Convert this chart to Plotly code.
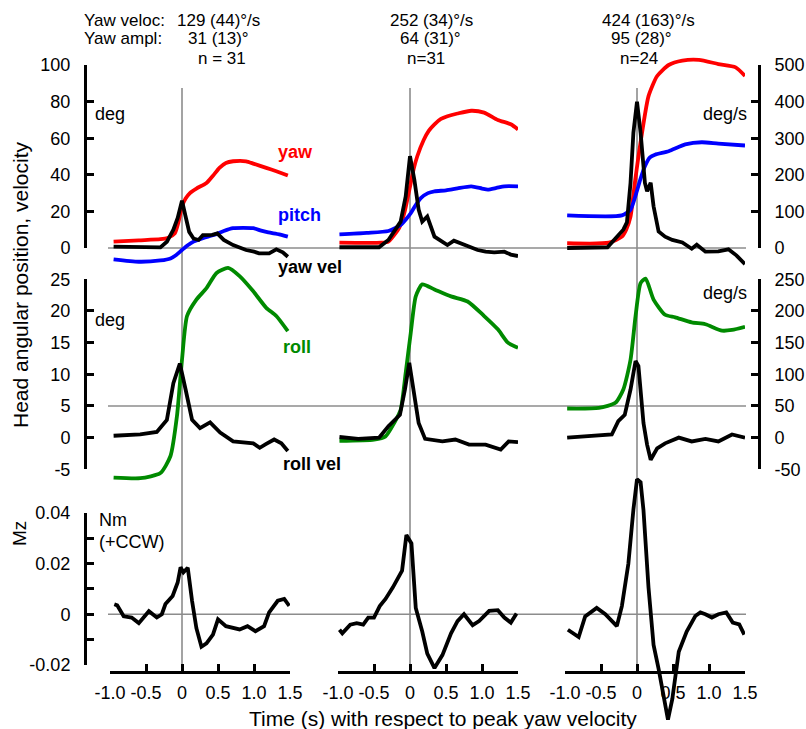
import plotly.graph_objects as go

W, H = 806, 729

# ---------------- data (time in s relative to peak yaw velocity) ----------------
# Column 1 (slow turns)
c1_yaw_t = [-0.95, -0.6, -0.3, -0.2, -0.1, -0.05, 0, 0.05, 0.11, 0.2, 0.34, 0.43, 0.52, 0.61, 0.71, 0.89, 1.0, 1.17, 1.31, 1.47]
c1_yaw = [3.5, 4.2, 4.8, 5.5, 8, 14, 22.7, 27, 30, 32.5, 35.5, 39.5, 43.8, 46.5, 47.4, 47.4, 46, 43.8, 41.9, 39.6]
c1_pitch_t = [-0.95, -0.6, -0.3, -0.16, -0.08, 0, 0.08, 0.16, 0.3, 0.44, 0.58, 0.71, 0.85, 0.99, 1.1, 1.2, 1.35, 1.47]
c1_pitch = [-6.2, -7.5, -6.8, -5.7, -3.8, -1.1, 1.5, 3.5, 5.5, 7.1, 9.3, 10.8, 11, 10.8, 9.5, 8.5, 7.5, 6.2]
c1_yawvel_t = [-0.95, -0.7, -0.4, -0.3, -0.21, -0.12, -0.06, -0.02, 0, 0.05, 0.1, 0.16, 0.23, 0.29, 0.34, 0.42, 0.49, 0.58, 0.71, 0.8, 0.89, 1.0, 1.07, 1.21, 1.31, 1.4, 1.47]
c1_yawvel = [3.6, 2, 1.5, 1.5, 17, 50, 82, 118, 129, 86, 44, 26, 22, 35, 35, 36, 40, 22, 8, 0, -5.5, -10, -14.5, -14.5, -3.5, -12, -24]
c1_roll_t = [-0.95, -0.58, -0.3, -0.16, -0.07, 0, 0.07, 0.2, 0.34, 0.48, 0.64, 0.8, 0.99, 1.17, 1.31, 1.47]
c1_roll = [-6.3, -6.4, -5.6, -2.9, 3.4, 12.3, 19.2, 21.8, 23.6, 26, 26.8, 25.5, 23.1, 20.5, 19.2, 16.8]
c1_rollvel_t = [-0.95, -0.58, -0.35, -0.21, -0.12, -0.03, 0.05, 0.14, 0.25, 0.39, 0.53, 0.71, 0.99, 1.08, 1.17, 1.28, 1.38, 1.47]
c1_rollvel = [3, 5, 9, 28, 86, 117, 76, 28, 15, 24, 8, -6, -9, -16, -10, -3, -9, -21]
c1_mz_t = [-0.94, -0.9, -0.81, -0.7, -0.6, -0.46, -0.35, -0.28, -0.23, -0.13, -0.06, -0.02, 0.02, 0.08, 0.14, 0.2, 0.27, 0.34, 0.43, 0.5, 0.61, 0.8, 0.91, 1.02, 1.14, 1.21, 1.33, 1.42, 1.49]
c1_mz = [0.0039, 0.0035, -0.0008, -0.0013, -0.0035, 0.0012, -0.0013, 0.0, 0.004, 0.0072, 0.0125, 0.0185, 0.0165, 0.0183, 0.0052, -0.0055, -0.0128, -0.0115, -0.008, -0.002, -0.0047, -0.006, -0.0047, -0.0067, -0.0047, 0.0007, 0.0053, 0.006, 0.0033]

# Column 2 (medium turns)
c2_yaw_t = [-0.98, -0.4, -0.3, -0.22, -0.15, -0.08, 0.01, 0.05, 0.1, 0.19, 0.26, 0.34, 0.43, 0.52, 0.66, 0.85, 1.03, 1.22, 1.4, 1.5]
c2_yaw = [2.9, 2.9, 3.5, 7.1, 11, 19, 35.5, 43, 50, 59, 64, 67.6, 70.5, 72, 73.5, 75, 74, 70, 67.6, 64.8]
c2_pitch_t = [-0.98, -0.6, -0.3, -0.13, -0.05, 0.01, 0.08, 0.15, 0.25, 0.34, 0.5, 0.66, 0.85, 1.0, 1.08, 1.2, 1.31, 1.5]
c2_pitch = [7.5, 8.3, 9.3, 12.6, 16, 19, 23.5, 27.3, 30, 31, 31.5, 32.6, 33.7, 32.5, 31.9, 32.8, 33.7, 33.7]
c2_yawvel_t = [-0.98, -0.6, -0.43, -0.3, -0.2, -0.13, -0.06, 0, 0.06, 0.12, 0.17, 0.24, 0.34, 0.43, 0.52, 0.61, 0.75, 0.94, 1.05, 1.17, 1.31, 1.4, 1.5]
c2_yawvel = [2, 2, 2, 22, 50, 72, 141, 251, 187, 105, 72, 86, 31, 20, 8, 20, 8, -5.5, -10, -12, -10, -18, -22]
c2_roll_t = [-0.98, -0.5, -0.34, -0.22, -0.13, -0.06, 0.01, 0.08, 0.17, 0.34, 0.57, 0.8, 1.03, 1.22, 1.36, 1.5]
c2_roll = [-0.5, -0.3, 0.2, 2.3, 4.4, 10.2, 16.5, 22.3, 24.2, 23.4, 22.3, 21.5, 19.2, 17.1, 15, 14.2]
c2_rollvel_t = [-0.98, -0.72, -0.43, -0.3, -0.14, -0.07, -0.01, 0.05, 0.12, 0.21, 0.45, 0.63, 0.82, 1.05, 1.26, 1.37, 1.5]
c2_rollvel = [1, -2, 0, 18, 36, 76, 118, 76, 23, -2, -6, -3, -11, -11, -19, -6, -7]
c2_mz_t = [-0.98, -0.94, -0.83, -0.74, -0.65, -0.58, -0.5, -0.42, -0.34, -0.24, -0.11, -0.05, 0.02, 0.08, 0.17, 0.24, 0.34, 0.45, 0.57, 0.66, 0.75, 0.87, 0.96, 1.1, 1.22, 1.31, 1.4, 1.48]
c2_mz = [-0.0061, -0.0075, -0.0041, -0.0035, -0.0041, -0.0013, -0.0013, 0.0032, 0.006, 0.0105, 0.0172, 0.0312, 0.0279, 0.0025, -0.0068, -0.0155, -0.0212, -0.0161, -0.0075, -0.0027, 0.0, -0.0043, -0.0027, 0.0013, 0.0016, -0.0013, -0.0033, 0.0003]

# Column 3 (fast turns)
c3_yaw_t = [-0.97, -0.39, -0.21, -0.15, -0.09, -0.03, 0.02, 0.07, 0.16, 0.28, 0.44, 0.63, 0.86, 1.13, 1.37, 1.5]
c3_yaw = [2.6, 2.9, 6.2, 10, 17.2, 35.5, 50, 63, 83, 94, 100, 102.4, 102.8, 100.5, 98.7, 94]
c3_pitch_t = [-0.97, -0.21, -0.09, -0.01, 0.05, 0.11, 0.18, 0.25, 0.44, 0.67, 0.9, 1.13, 1.5]
c3_pitch = [17.8, 17.8, 20.9, 30, 38, 44.7, 49.5, 51, 52.9, 56.6, 57.8, 57, 56]
c3_yawvel_t = [-0.97, -0.41, -0.3, -0.19, -0.14, -0.09, -0.05, 0, 0.05, 0.11, 0.14, 0.19, 0.23, 0.3, 0.39, 0.49, 0.63, 0.76, 0.83, 0.95, 1.13, 1.27, 1.38, 1.5]
c3_yawvel = [0, 2, 26, 50, 70, 178, 315, 400, 315, 178, 155, 178, 114, 45, 31, 22, 15, -2, 9, -10, -9, -3.5, -20, -44]
c3_roll_t = [-0.97, -0.53, -0.3, -0.19, -0.09, -0.02, 0.05, 0.12, 0.23, 0.39, 0.53, 0.76, 0.95, 1.18, 1.32, 1.5]
c3_roll = [4.6, 4.7, 5.5, 7.6, 12.3, 19.2, 24.4, 25.1, 21.8, 19.4, 19, 18.2, 17.9, 16.9, 17, 17.5]
c3_rollvel_t = [-0.97, -0.35, -0.26, -0.17, -0.09, -0.02, 0.02, 0.09, 0.14, 0.19, 0.28, 0.39, 0.58, 0.76, 0.95, 1.13, 1.32, 1.5]
c3_rollvel = [0, 5, 26, 36, 76, 121, 113, 23, -11, -35, -17, -9, 0, -6, -2, -6, 5, 0]
c3_mz_t = [-0.96, -0.81, -0.72, -0.56, -0.44, -0.28, -0.21, -0.12, -0.05, 0, 0.05, 0.09, 0.16, 0.23, 0.3, 0.37, 0.43, 0.49, 0.58, 0.69, 0.81, 0.88, 0.95, 1.04, 1.13, 1.24, 1.33, 1.42, 1.49]
c3_mz = [-0.0061, -0.009, -0.0009, 0.0025, 0.0, -0.0047, 0.0032, 0.0199, 0.0412, 0.0532, 0.052, 0.041, 0.0105, -0.0121, -0.0215, -0.0335, -0.0415, -0.0335, -0.0148, -0.0068, -0.0007, 0.0007, 0.0, -0.0013, 0.0, 0.0007, -0.0033, -0.004, -0.008]

# header texts
veloc_text = ["129 (44)°/s", "252 (34)°/s", "424 (163)°/s"]
ampl_text = ["31 (13)°", "64 (31)°", "95 (28)°"]
n_text = ["n = 31", "n=31", "n=24"]

x_ticks = [-1.0, -0.5, 0, 0.5, 1.0, 1.5]
x_ticktext = ["-1.0", "-0.5", "0", "0.5", "1.0", "1.5"]

# ---------------- layout helpers ----------------
def px(x):
    return x / W

def py(y):
    return 1 - y / H

def full_range(v_a, y_a, v_b, y_b):
    s = (y_b - y_a) / (v_b - v_a)
    return [v_a + (H - y_a) / s, v_a + (0 - y_a) / s]

FONT = "Liberation Sans, Arial, sans-serif"
RED, BLUE, GREEN, BLACK = "#ff0000", "#0000ff", "#008a00", "#000000"
LW = 3.8

fig = go.Figure()

cols = [
    ("x", c1_yaw_t, c1_yaw, c1_pitch_t, c1_pitch, c1_yawvel_t, c1_yawvel, c1_roll_t, c1_roll, c1_rollvel_t, c1_rollvel, c1_mz_t, c1_mz),
    ("x2", c2_yaw_t, c2_yaw, c2_pitch_t, c2_pitch, c2_yawvel_t, c2_yawvel, c2_roll_t, c2_roll, c2_rollvel_t, c2_rollvel, c2_mz_t, c2_mz),
    ("x3", c3_yaw_t, c3_yaw, c3_pitch_t, c3_pitch, c3_yawvel_t, c3_yawvel, c3_roll_t, c3_roll, c3_rollvel_t, c3_rollvel, c3_mz_t, c3_mz),
]

def line(x, y, xa, ya, color, spline=False):
    return go.Scatter(x=x, y=y, xaxis=xa, yaxis=ya, mode="lines",
                      line=dict(color=color, width=LW, shape="spline" if spline else "linear", smoothing=0.6),
                      showlegend=False, hoverinfo="skip")

for (xa, yt, yv, pt, pv, yvt, yvv, rt, rv, rvt, rvv, mt, mv) in cols:
    fig.add_trace(line(yt, yv, xa, "y", RED, True))
    fig.add_trace(line(pt, pv, xa, "y", BLUE, True))
    fig.add_trace(line(yvt, yvv, xa, "y2", BLACK))
    fig.add_trace(line(rt, rv, xa, "y3", GREEN, True))
    fig.add_trace(line(rvt, rvv, xa, "y4", BLACK))
    fig.add_trace(line(mt, mv, xa, "y5", BLACK))

# dummy traces so display axes get drawn
for xa, ya in [("x", "y6"), ("x3", "y7"), ("x", "y8"), ("x3", "y9"), ("x", "y10")]:
    fig.add_trace(go.Scatter(x=[0], y=[0], xaxis=xa, yaxis=ya, mode="markers",
                             marker=dict(opacity=0), showlegend=False, hoverinfo="skip"))

tickfont = dict(family=FONT, size=18, color="black")

def xaxis(x0, x1):
    return dict(domain=[px(x0), px(x1)], range=[-1, 1.5], anchor="free", position=py(672),
                showline=True, linewidth=3, linecolor="black", ticks="inside", ticklen=7, tickwidth=3,
                tickcolor="black", tickvals=x_ticks, ticktext=x_ticktext, tickfont=tickfont,
                showgrid=False, zeroline=False, ticklabelstandoff=3, fixedrange=True, automargin=False)

def data_y(rng):
    return dict(domain=[0, 1], range=rng, visible=False, showgrid=False, zeroline=False, fixedrange=True)

def disp_y(y_top, y_bot, rng, vals, texts, pos, side):
    return dict(domain=[py(y_bot), py(y_top)], range=rng, anchor="free", position=pos, side=side,
                showline=True, linewidth=3, linecolor="black", ticks="inside", ticklen=7, tickwidth=3,
                tickcolor="black", tickvals=vals, ticktext=texts, tickfont=tickfont,
                showgrid=False, zeroline=False, ticklabelstandoff=10, fixedrange=True, automargin=False)

fig.update_layout(
    width=W, height=H,
    margin=dict(l=0, r=0, t=0, b=0, pad=0, autoexpand=False),
    paper_bgcolor="white", plot_bgcolor="rgba(0,0,0,0)",
    font=dict(family=FONT, size=18, color="black"),
    showlegend=False,
    xaxis=xaxis(110, 290),
    xaxis2=xaxis(338, 518),
    xaxis3=xaxis(565, 745),
    yaxis=data_y(full_range(0, 248, 100, 65)),
    yaxis2=data_y(full_range(0, 248, 500, 65)),
    yaxis3=data_y(full_range(-5, 469.3, 25, 279.3)),
    yaxis4=data_y(full_range(-50, 469.3, 250, 279.3)),
    yaxis5=data_y(full_range(-0.02, 665, 0.04, 512.7)),
    yaxis6=disp_y(65, 248, [0, 100], [0, 20, 40, 60, 80, 100], ["0", "20", "40", "60", "80", "100"], px(85), "left"),
    yaxis7=disp_y(65, 248, [0, 500], [0, 100, 200, 300, 400, 500], ["0", "100", "200", "300", "400", "500"], px(759), "right"),
    yaxis8=disp_y(279.3, 469.3, [-5, 25], [-5, 0, 5, 10, 15, 20, 25], ["-5", "0", "5", "10", "15", "20", "25"], px(85), "left"),
    yaxis9=disp_y(279.3, 469.3, [-50, 250], [-50, 0, 50, 100, 150, 200, 250], ["-50", "0", "50", "100", "150", "200", "250"], px(759), "right"),
    yaxis10=disp_y(512.7, 665, [-0.02, 0.04], [-0.02, -0.01, 0, 0.01, 0.02, 0.03, 0.04], ["-0.02", "", "0", "", "0.02", "", "0.04"], px(85), "left"),
)

GRAY = "#8c8c8c"
shapes = []
for xa in ["x", "x2", "x3"]:
    shapes.append(dict(type="line", xref=xa, yref="paper", x0=0, x1=0, y0=py(672), y1=py(88),
                       line=dict(color=GRAY, width=1.6), layer="below"))
for ya, v in [("y", 0), ("y3", 5), ("y5", 0)]:
    shapes.append(dict(type="line", xref="paper", yref=ya, x0=px(108), x1=px(746), y0=v, y1=v,
                       line=dict(color=GRAY, width=1.6), layer="below"))
fig.update_layout(shapes=shapes)

ann = []
def text(x, y, s, size=18, color="black", xanchor="left", bold=False, angle=0):
    ann.append(dict(x=px(x), y=py(y), xref="paper", yref="paper", text=f"<b>{s}</b>" if bold else s,
                    showarrow=False, xanchor=xanchor, yanchor="middle", textangle=angle, borderpad=0,
                    font=dict(family=FONT, size=size, color=color)))

# header
HS = 17
text(83, 20, "Yaw veloc:", size=HS)
text(83, 39, "Yaw ampl:", size=HS)
text(176, 20, veloc_text[0], size=HS)
text(187, 39, ampl_text[0], size=HS)
text(222, 58, n_text[0], size=HS, xanchor="center")
text(432, 20, veloc_text[1], size=HS, xanchor="center")
text(430, 39, ampl_text[1], size=HS, xanchor="center")
text(426, 58, n_text[1], size=HS, xanchor="center")
text(648, 20, veloc_text[2], size=HS, xanchor="center")
text(641, 39, ampl_text[2], size=HS, xanchor="center")
text(639, 58, n_text[2], size=HS, xanchor="center")

# units and series labels
text(94, 114, "deg")
text(748, 114, "deg/s", xanchor="right")
text(277, 152, "yaw", color=RED, bold=True)
text(277, 215, "pitch", color=BLUE, bold=True)
text(277, 267, "yaw vel", bold=True)
text(94, 320, "deg")
text(748, 293, "deg/s", xanchor="right")
text(282, 347, "roll", color=GREEN, bold=True)
text(282, 464, "roll vel", bold=True)
text(98, 520, "Nm")
text(98, 542, "(+CCW)")

# axis titles
text(20, 285, "Head angular position, velocity", size=21, xanchor="center", angle=-90)
text(19, 534, "Mz", size=19, xanchor="center", angle=-90)
text(443, 718, "Time (s) with respect to peak yaw velocity", size=21, xanchor="center")

fig.update_layout(annotations=ann)

fig.write_html("out.html", config={"displayModeBar": False},
               post_script="document.body.style.margin='0px';document.body.style.overflow='hidden';")
